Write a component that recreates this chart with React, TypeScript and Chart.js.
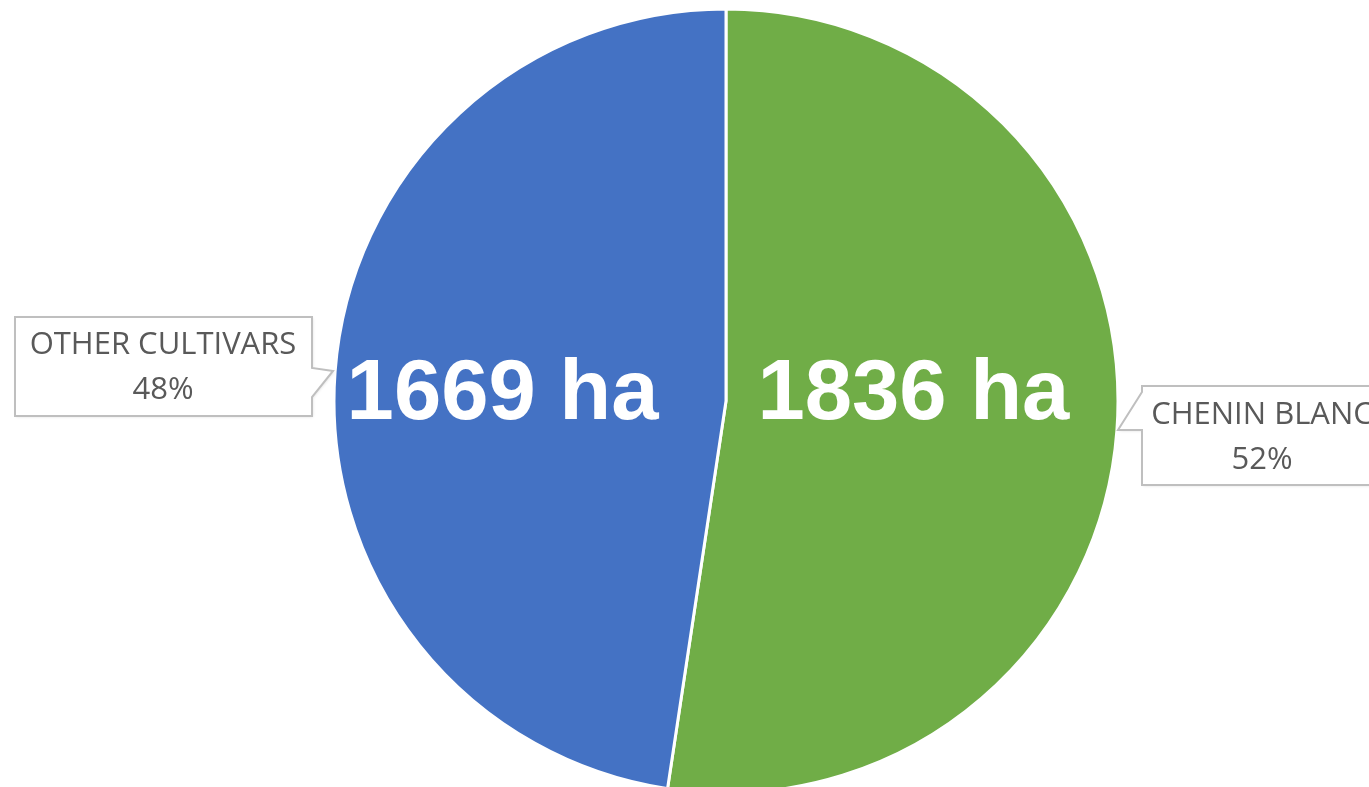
import React, { useEffect, useRef } from "react";
import { Chart, registerables } from "chart.js";

Chart.register(...registerables);

const categories = ["CHENIN BLANC", "OTHER CULTIVARS"];
const hectares = [1836, 1669];
const percentLabels = ["52%", "48%"];
const sliceColors = ["#70AD47", "#4472C4"];

const W = 1369;
const H = 787;

const labelPlugin = {
  id: "labelPlugin",
  afterDraw(chart: any) {
    const ctx = chart.ctx as CanvasRenderingContext2D;
    const meta = chart.getDatasetMeta(0);
    const arc0 = meta.data[0];
    const cx = arc0.x;
    const cy = arc0.y;
    const r = arc0.outerRadius;

    // big white value labels
    ctx.save();
    ctx.fillStyle = "#ffffff";
    ctx.font = 'bold 85px "Liberation Sans", Arial, sans-serif';
    ctx.textAlign = "center";
    ctx.textBaseline = "middle";
    ctx.fillText(`${hectares[0]} ha`, cx + r * 0.478, cy - 5);
    ctx.fillText(`${hectares[1]} ha`, cx - r * 0.57, cy - 5);
    ctx.restore();

    const drawCallout = (
      x: number, y: number, w: number, h: number,
      side: "left" | "right", p1: number[], tip: number[], p2: number[],
      lines: string[], textCx: number, lineYs: number[]
    ) => {
      ctx.save();
      ctx.beginPath();
      if (side === "right") {
        ctx.moveTo(x, y);
        ctx.lineTo(x + w, y);
        ctx.lineTo(p1[0], p1[1]);
        ctx.lineTo(tip[0], tip[1]);
        ctx.lineTo(p2[0], p2[1]);
        ctx.lineTo(x + w, y + h);
        ctx.lineTo(x, y + h);
        ctx.closePath();
      } else {
        ctx.moveTo(x, y);
        ctx.lineTo(x + w, y);
        ctx.lineTo(x + w, y + h);
        ctx.lineTo(x, y + h);
        ctx.lineTo(p2[0], p2[1]);
        ctx.lineTo(tip[0], tip[1]);
        ctx.lineTo(p1[0], p1[1]);
        ctx.closePath();
      }
      ctx.shadowColor = "rgba(0,0,0,0.12)";
      ctx.shadowBlur = 3;
      ctx.shadowOffsetX = 1;
      ctx.shadowOffsetY = 1;
      ctx.fillStyle = "#ffffff";
      ctx.fill();
      ctx.shadowColor = "transparent";
      ctx.strokeStyle = "#BFBFBF";
      ctx.lineWidth = 2;
      ctx.stroke();
      ctx.fillStyle = "#595959";
      ctx.font = '31px "Open Sans", "Noto Sans", sans-serif';
      ctx.textAlign = "center";
      ctx.textBaseline = "middle";
      lines.forEach((t, i) => ctx.fillText(t, textCx, lineYs[i]));
      ctx.restore();
    };

    // OTHER CULTIVARS (left)
    drawCallout(
      15, 317, 297, 99, "right",
      [312, 368], [333, 371], [312, 397],
      [categories[1], percentLabels[1]], 163, [345, 390]
    );
    // CHENIN BLANC (right)
    drawCallout(
      1142, 386, 250, 99, "left",
      [1142, 392], [1118, 430], [1142, 430],
      [categories[0], percentLabels[0]], 1262, [415, 460]
    );
  },
};

export default function App() {
  const canvasRef = useRef<HTMLCanvasElement | null>(null);

  useEffect(() => {
    if (!canvasRef.current) return;
    const chart = new Chart(canvasRef.current, {
      type: "pie",
      data: {
        labels: categories,
        datasets: [
          {
            data: hectares,
            backgroundColor: sliceColors,
            borderColor: "#ffffff",
            borderWidth: 3,
          },
        ],
      },
      options: {
        responsive: false,
        animation: false,
        radius: 392,
        layout: { padding: { left: 83, right: 0, top: 15, bottom: 0 } },
        plugins: {
          legend: { display: false },
          tooltip: { enabled: false },
        },
      } as any,
      plugins: [labelPlugin],
    });
    return () => chart.destroy();
  }, []);

  return (
    <div style={{ position: "fixed", left: 0, top: 0, width: W, height: H, background: "#fff" }}>
      <canvas ref={canvasRef} width={W} height={H} style={{ width: W, height: H, display: "block" }} />
    </div>
  );
}
